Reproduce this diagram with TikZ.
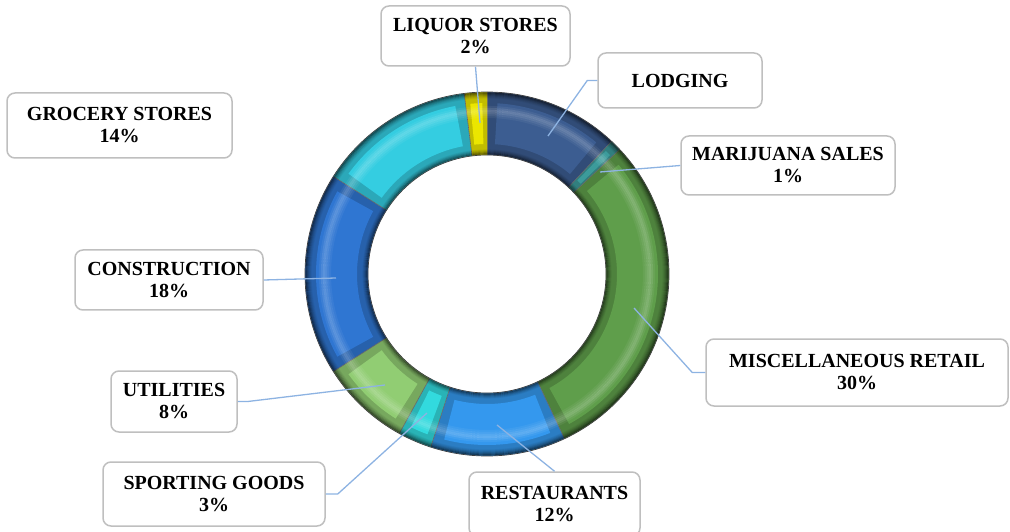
\documentclass[tikz,border=0pt]{standalone}
\usepackage{fontspec}
\setmainfont{Liberation Serif}
\usepackage{tikz}
\usetikzlibrary{positioning}

\definecolor{lodgingc}{RGB}{60,93,145}
\definecolor{marijuanac}{RGB}{60,155,155}
\definecolor{miscc}{RGB}{95,158,75}
\definecolor{restc}{RGB}{52,152,238}
\definecolor{sportc}{RGB}{50,218,222}
\definecolor{utilc}{RGB}{145,205,115}
\definecolor{constrc}{RGB}{47,118,210}
\definecolor{groceryc}{RGB}{52,205,225}
\definecolor{liquorc}{RGB}{235,230,0}
\definecolor{leadc}{RGB}{141,179,226}

% one piece of the ring: start angle, end angle, colour
\newcommand{\ringpart}[3]{%
  \pgfmathsetmacro{\ins}{min(3.5,0.22*((#1)-(#2)))}%
  \pgfmathsetmacro{\sa}{#1-\ins}%
  \pgfmathsetmacro{\ea}{#2+\ins}%
  \fill[#3!82!black] (#1:182pt) arc[start angle=#1, end angle=#2, radius=182pt]
    -- (#2:119pt) arc[start angle=#2, end angle=#1, radius=119pt] -- cycle;
  \fill[#3] (\sa:171pt) arc[start angle=\sa, end angle=\ea, radius=171pt]
    -- (\ea:130pt) arc[start angle=\ea, end angle=\sa, radius=130pt] -- cycle;
  \draw[black!60, line width=0.6pt] (#1:182pt) -- (#1:119pt);
}

\begin{document}
\begin{tikzpicture}[x=1pt, y=1pt,
    lbl/.style={draw=gray!50, line width=1.5pt, rounded corners=8pt, fill=white,
      align=center, inner sep=0pt, font=\fontsize{20}{22}\selectfont\bfseries},
    lead/.style={draw=leadc, line width=1.3pt}]

\useasboundingbox (0,0) rectangle (1010,531);

% the ring
\begin{scope}[shift={(487,257)}]
  \ringpart{90}{46.8}{lodgingc}
  \ringpart{46.8}{43.2}{marijuanac}
  \ringpart{43.2}{-64.8}{miscc}
  \ringpart{-64.8}{-108}{restc}
  \ringpart{-108}{-118.8}{sportc}
  \ringpart{-118.8}{-147.6}{utilc}
  \ringpart{-147.6}{-212.4}{constrc}
  \ringpart{-212.4}{-262.8}{groceryc}
  \ringpart{-262.8}{-270}{liquorc}
  % soft edges and a highlight
  \foreach \r/\o in {120/0.45,121/0.33,122/0.22,123/0.13,124/0.06,
                     181/0.5,180/0.38,179/0.27,178/0.18,177/0.1,176/0.05}
    \draw[black, opacity=\o, line width=1.1pt] (0,0) circle[radius=\r pt];
  \foreach \r/\o in {157/0.05,159/0.1,161/0.16,163/0.2,165/0.14,167/0.06}
    \draw[white, opacity=\o, line width=2.1pt] (0,0) circle[radius=\r pt];
  \draw[black!75, line width=0.7pt] (0,0) circle[radius=182pt];
  \draw[black!75, line width=0.7pt] (0,0) circle[radius=119pt];
\end{scope}

% labels
\node[lbl, minimum width=189, minimum height=60] (liq) at (475.5,495) {LIQUOR STORES\\2\%};
\node[lbl, minimum width=164, minimum height=55] (lod) at (680,450.5) {LODGING};
\node[lbl, minimum width=214, minimum height=59] (mar) at (788,365.5) {MARIJUANA SALES\\1\%};
\node[lbl, minimum width=225, minimum height=65] (gro) at (119.5,405.5) {GROCERY STORES\\14\%};
\node[lbl, minimum width=188, minimum height=60] (con) at (169,251) {CONSTRUCTION\\18\%};
\node[lbl, minimum width=302, minimum height=67] (mis) at (857,158.5) {MISCELLANEOUS RETAIL\\30\%};
\node[lbl, minimum width=126, minimum height=61] (uti) at (174,129.5) {UTILITIES\\8\%};
\node[lbl, minimum width=222, minimum height=64] (spo) at (214,37) {SPORTING GOODS\\3\%};
\node[lbl, minimum width=171, minimum height=64] (res) at (554.5,27) {RESTAURANTS\\12\%};

% leader ends inside the ring
\coordinate (pliq) at (480,408);
\coordinate (plod) at (548,395);
\coordinate (pmar) at (600,359);
\coordinate (pmis) at (634,223);
\coordinate (pres) at (497,106);
\coordinate (pspo) at (427,118);
\coordinate (puti) at (385,146);
\coordinate (pcon) at (336,253);

\draw[lead] (liq.south) -- (pliq);
\draw[lead] (lod.west) -- ++(-10,0) -- (plod);
\draw[lead] (mar.west) -- (pmar);
\draw[lead] (mis.west) -- ++(-13,0) -- (pmis);
\draw[lead] (res.north) -- (pres);
\draw[lead] (spo.east) -- ++(12,0) -- (pspo);
\draw[lead] (uti.east) -- ++(10,0) -- (puti);
\draw[lead] (con.east) -- (pcon);

\end{tikzpicture}
\end{document}
